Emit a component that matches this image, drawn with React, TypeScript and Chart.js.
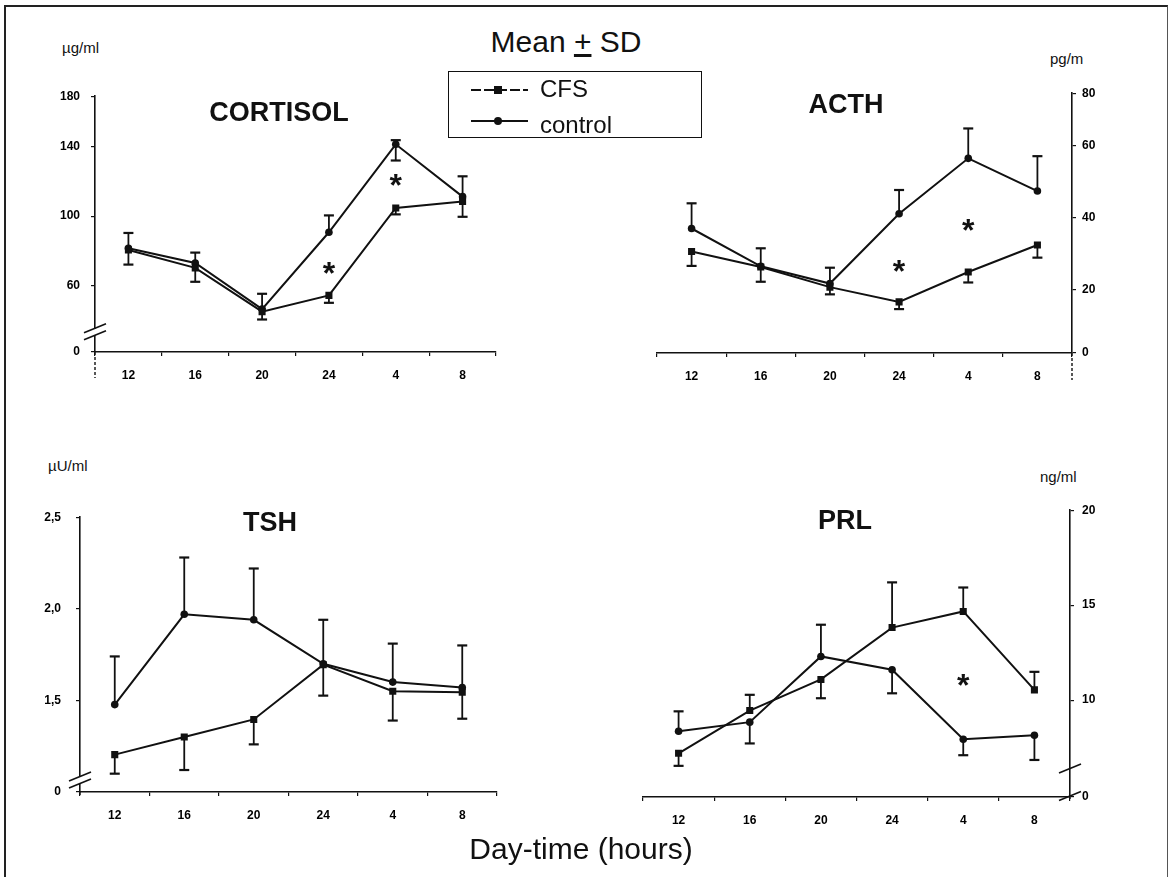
import React, { useEffect, useRef } from "react";
import { Chart, registerables } from "chart.js";

Chart.register(...registerables);

const FONT = "'Liberation Sans', Arial, Helvetica, sans-serif";

// ---- shared categories (day-time, hours) ----
const HOURS = ["12", "16", "20", "24", "4", "8"];

// ---- CORTISOL (µg/ml) ----
const CORT_CFS = [80.5, 70.2, 45.0, 54.4, 104.7, 108.4];
const CORT_CFS_HI = [null, null, null, null, null, null];
const CORT_CFS_LO = [72.1, 62.2, 40.5, 50.1, 101.0, 99.6];
const CORT_CTL = [81.5, 73.0, 46.5, 90.7, 141.3, 111.2];
const CORT_CTL_HI = [90.3, 79.0, 55.3, 100.4, 143.7, 122.9];
const CORT_CTL_LO = [null, null, null, null, 132.0, null];
const CORT_TICK_VALUES = [21.8, 60, 100, 140, 169];
const CORT_TICK_LABELS = ["0", "60", "100", "140", "180"];
const CORT_STAR_INDEX = [3, 4];
const CORT_STAR_VALUE = [71.3, 122];

// ---- ACTH (pg/ml) ----
const ACTH_CFS = [30.6, 26.3, 20.7, 16.6, 24.9, 32.4];
const ACTH_CFS_HI = [null, null, null, null, null, null];
const ACTH_CFS_LO = [26.6, 22.2, 18.7, 14.6, 22.0, 28.9];
const ACTH_CTL = [37.0, 26.5, 21.7, 41.1, 56.5, 47.4];
const ACTH_CTL_HI = [44.0, 31.5, 26.1, 47.7, 64.8, 57.1];
const ACTH_CTL_LO = [null, null, null, null, null, null];
const ACTH_TICK_VALUES = [2.4, 20, 40, 60, 74.6];
const ACTH_TICK_LABELS = ["0", "20", "40", "60", "80"];
const ACTH_STAR_INDEX = [3, 4];
const ACTH_STAR_VALUE = [27.2, 38.6];

// ---- TSH (µU/ml) ----
const TSH_CFS = [1.204, 1.3, 1.396, 1.695, 1.55, 1.545];
const TSH_CFS_HI = [null, null, null, null, null, null];
const TSH_CFS_LO = [1.1, 1.12, 1.26, 1.526, 1.39, 1.4];
const TSH_CTL = [1.477, 1.97, 1.94, 1.7, 1.6, 1.57];
const TSH_CTL_HI = [1.74, 2.28, 2.22, 1.94, 1.81, 1.8];
const TSH_CTL_LO = [null, null, null, null, null, null];
const TSH_TICK_VALUES = [1.0, 1.5, 2.0, 2.5];
const TSH_TICK_LABELS = ["0", "1,5", "2,0", "2,5"];
const TSH_STAR_INDEX: number[] = [];
const TSH_STAR_VALUE: number[] = [];

// ---- PRL (ng/ml) ----
const PRL_CFS = [7.2, 9.45, 11.09, 13.82, 14.67, 10.54];
const PRL_CFS_HI = [null, 10.28, null, 16.2, 15.93, 11.49];
const PRL_CFS_LO = [6.54, null, 10.1, null, null, null];
const PRL_CTL = [8.36, 8.84, 12.3, 11.6, 7.94, 8.15];
const PRL_CTL_HI = [9.41, null, 13.97, null, null, null];
const PRL_CTL_LO = [null, 7.72, null, 10.36, 7.1, 6.85];
const PRL_TICK_VALUES = [4.9, 10, 15, 20];
const PRL_TICK_LABELS = ["0", "10", "15", "20"];
const PRL_STAR_INDEX = [4];
const PRL_STAR_VALUE = [11.18];

type Panel = {
  key: string;
  side: "left" | "right";
  cfs: number[];
  cfsHi: (number | null)[];
  cfsLo: (number | null)[];
  ctl: number[];
  ctlHi: (number | null)[];
  ctlLo: (number | null)[];
  tickValues: number[];
  tickLabels: string[];
  starIndex: number[];
  starValue: number[];
  box: { left: number; top: number; width: number; height: number };
  pad: { top: number; right: number; bottom: number; left: number };
  yWidth: number;
  xHeight: number;
  yPad: number;
  breaks: { value: number; count: number }[];
  tail: number;
};

const PANELS: Panel[] = [
  {
    key: "cort", side: "left",
    cfs: CORT_CFS, cfsHi: CORT_CFS_HI, cfsLo: CORT_CFS_LO,
    ctl: CORT_CTL, ctlHi: CORT_CTL_HI, ctlLo: CORT_CTL_LO,
    tickValues: CORT_TICK_VALUES, tickLabels: CORT_TICK_LABELS,
    starIndex: CORT_STAR_INDEX, starValue: CORT_STAR_VALUE,
    box: { left: 20, top: 78, width: 490, height: 330 },
    pad: { top: 10, right: 14, bottom: 0, left: 0 },
    yWidth: 75, xHeight: 56, yPad: 11,
    breaks: [{ value: 33.5, count: 2 }], tail: 26,
  },
  {
    key: "acth", side: "right",
    cfs: ACTH_CFS, cfsHi: ACTH_CFS_HI, cfsLo: ACTH_CFS_LO,
    ctl: ACTH_CTL, ctlHi: ACTH_CTL_HI, ctlLo: ACTH_CTL_LO,
    tickValues: ACTH_TICK_VALUES, tickLabels: ACTH_TICK_LABELS,
    starIndex: ACTH_STAR_INDEX, starValue: ACTH_STAR_VALUE,
    box: { left: 640, top: 80, width: 470, height: 330 },
    pad: { top: 13, right: 0, bottom: 0, left: 17 },
    yWidth: 38, xHeight: 57, yPad: 6,
    breaks: [], tail: 27,
  },
  {
    key: "tsh", side: "left",
    cfs: TSH_CFS, cfsHi: TSH_CFS_HI, cfsLo: TSH_CFS_LO,
    ctl: TSH_CTL, ctlHi: TSH_CTL_HI, ctlLo: TSH_CTL_LO,
    tickValues: TSH_TICK_VALUES, tickLabels: TSH_TICK_LABELS,
    starIndex: TSH_STAR_INDEX, starValue: TSH_STAR_VALUE,
    box: { left: 10, top: 495, width: 500, height: 345 },
    pad: { top: 15, right: 13, bottom: 0, left: 0 },
    yWidth: 70, xHeight: 48, yPad: 15,
    breaks: [{ value: 1.066, count: 2 }], tail: 4,
  },
  {
    key: "prl", side: "right",
    cfs: PRL_CFS, cfsHi: PRL_CFS_HI, cfsLo: PRL_CFS_LO,
    ctl: PRL_CTL, ctlHi: PRL_CTL_HI, ctlLo: PRL_CTL_LO,
    tickValues: PRL_TICK_VALUES, tickLabels: PRL_TICK_LABELS,
    starIndex: PRL_STAR_INDEX, starValue: PRL_STAR_VALUE,
    box: { left: 625, top: 495, width: 485, height: 345 },
    pad: { top: 15, right: 0, bottom: 0, left: 18 },
    yWidth: 40, xHeight: 43, yPad: 8,
    breaks: [{ value: 6.4, count: 1 }, { value: 4.95, count: 1 }], tail: 2,
  },
];

const INK = "#111";

function makeDecor(p: Panel) {
  return {
    id: "decor_" + p.key,
    beforeDatasetsDraw(chart: any) {
      const { ctx, scales } = chart;
      const x = scales.x;
      const y = scales.y;
      ctx.save();
      ctx.strokeStyle = INK;
      const sets: [number[], (number | null)[], (number | null)[]][] = [
        [p.cfs, p.cfsHi, p.cfsLo],
        [p.ctl, p.ctlHi, p.ctlLo],
      ];
      sets.forEach(([vals, hi, lo]) => {
        vals.forEach((v, i) => {
          [hi[i], lo[i]].forEach((e) => {
            if (e == null) return;
            const px = x.getPixelForValue(i);
            const y0 = y.getPixelForValue(v);
            const y1 = y.getPixelForValue(e);
            ctx.lineWidth = 1.8;
            ctx.beginPath();
            ctx.moveTo(px, y0);
            ctx.lineTo(px, y1);
            ctx.stroke();
            ctx.lineWidth = 2.2;
            ctx.beginPath();
            ctx.moveTo(px - 5, y1);
            ctx.lineTo(px + 5, y1);
            ctx.stroke();
          });
        });
      });
      ctx.restore();
    },
    afterDraw(chart: any) {
      const { ctx, scales, chartArea } = chart;
      const x = scales.x;
      const y = scales.y;
      const axisX = p.side === "left" ? chartArea.left : chartArea.right;
      ctx.save();
      // axis tail below the x axis
      if (p.tail > 0) {
        ctx.strokeStyle = INK;
        ctx.lineWidth = 1.4;
        ctx.setLineDash([3, 2]);
        ctx.beginPath();
        ctx.moveTo(axisX, chartArea.bottom);
        ctx.lineTo(axisX, chartArea.bottom + p.tail);
        ctx.stroke();
        ctx.setLineDash([]);
      }
      // axis break marks
      p.breaks.forEach((b) => {
        const yc = y.getPixelForValue(b.value);
        const offs = b.count === 2 ? [-3.5, 3.5] : [0];
        if (b.count === 2) ctx.clearRect(axisX - 2, yc - 3, 4, 6);
        ctx.strokeStyle = INK;
        ctx.lineWidth = 1.6;
        offs.forEach((o) => {
          ctx.beginPath();
          ctx.moveTo(axisX - 11, yc + o + 4.5);
          ctx.lineTo(axisX + 11, yc + o - 4.5);
          ctx.stroke();
        });
      });
      // significance stars
      ctx.fillStyle = INK;
      ctx.font = `bold 32px ${FONT}`;
      ctx.textAlign = "center";
      ctx.textBaseline = "alphabetic";
      p.starIndex.forEach((idx, k) => {
        const px = x.getPixelForValue(idx);
        const py = y.getPixelForValue(p.starValue[k]);
        ctx.fillText("*", px, py + 18.5);
      });
      ctx.restore();
    },
  };
}

function PanelChart({ p }: { p: Panel }) {
  const ref = useRef<HTMLCanvasElement | null>(null);
  useEffect(() => {
    if (!ref.current) return;
    const tickFont = { family: FONT, size: 12, weight: "bold" as const };
    const chart = new Chart(ref.current, {
      type: "line",
      data: {
        labels: HOURS,
        datasets: [
          {
            label: "CFS",
            data: p.cfs,
            borderColor: INK,
            backgroundColor: INK,
            borderWidth: 2,
            pointStyle: "rect",
            pointRadius: 5,
            pointBorderWidth: 0,
            tension: 0,
          },
          {
            label: "control",
            data: p.ctl,
            borderColor: INK,
            backgroundColor: INK,
            borderWidth: 2,
            pointStyle: "circle",
            pointRadius: 3.8,
            pointBorderWidth: 0,
            tension: 0,
          },
        ],
      },
      options: {
        animation: false,
        responsive: false,
        maintainAspectRatio: false,
        layout: { padding: p.pad },
        plugins: {
          legend: { display: false },
          tooltip: { enabled: false },
          title: { display: false },
        },
        scales: {
          x: {
            type: "category",
            offset: true,
            grid: {
              offset: true,
              drawOnChartArea: false,
              drawTicks: true,
              tickLength: 4,
              color: INK,
              lineWidth: 1.2,
            },
            border: { display: true, color: INK, width: 1.5, dash: [14, 3] },
            ticks: {
              font: tickFont,
              color: "#000",
              padding: 12,
              maxRotation: 0,
              autoSkip: false,
            },
            afterFit: (s: any) => {
              s.height = p.xHeight;
            },
          },
          y: {
            type: "linear",
            position: p.side,
            min: p.tickValues[0],
            max: p.tickValues[p.tickValues.length - 1],
            afterBuildTicks: (s: any) => {
              s.ticks = p.tickValues.map((v) => ({ value: v }));
            },
            grid: {
              drawOnChartArea: false,
              drawTicks: true,
              tickLength: 4,
              color: INK,
              lineWidth: 1.2,
            },
            border: { display: true, color: INK, width: 1.6 },
            ticks: {
              font: tickFont,
              color: "#000",
              padding: p.yPad,
              callback: (_v: any, i: number) => p.tickLabels[i],
            },
            afterFit: (s: any) => {
              s.width = p.yWidth;
            },
          },
        },
      } as any,
      plugins: [makeDecor(p)],
    });
    return () => chart.destroy();
  }, [p]);
  return (
    <canvas
      ref={ref}
      width={p.box.width}
      height={p.box.height}
      style={{
        position: "absolute",
        left: p.box.left,
        top: p.box.top,
        width: p.box.width,
        height: p.box.height,
      }}
    />
  );
}

function Txt(props: {
  x: number;
  baseline: number;
  size: number;
  bold?: boolean;
  align?: "left" | "center";
  children: React.ReactNode;
}) {
  const { x, baseline, size, bold, align = "left", children } = props;
  const top = baseline - 0.8465 * size;
  const style: React.CSSProperties = {
    position: "absolute",
    top,
    fontFamily: FONT,
    fontSize: size,
    fontWeight: bold ? "bold" : "normal",
    lineHeight: 1,
    whiteSpace: "nowrap",
    color: INK,
  };
  if (align === "center") {
    style.left = x - 300;
    style.width = 600;
    style.textAlign = "center";
  } else {
    style.left = x;
  }
  return <div style={style}>{children}</div>;
}

export default function App() {
  return (
    <div
      style={{
        position: "absolute",
        left: 0,
        top: 0,
        width: 1171,
        height: 877,
        background: "#fff",
        overflow: "hidden",
      }}
    >
      {/* outer frame */}
      <div
        style={{
          position: "absolute",
          left: 4,
          top: 5,
          width: 1164,
          height: 900,
          borderLeft: "2px solid #222",
          borderTop: "2px solid #222",
          borderRight: "1.5px solid #555",
          boxSizing: "border-box",
        }}
      />
      {PANELS.map((p) => (
        <PanelChart key={p.key} p={p} />
      ))}

      <Txt x={566} baseline={52} size={30} align="center">
        Mean <span style={{ textDecoration: "underline" }}>+</span> SD
      </Txt>

      {/* legend */}
      <div
        style={{
          position: "absolute",
          left: 448,
          top: 71,
          width: 254,
          height: 67,
          border: "1.5px solid #111",
          boxSizing: "border-box",
        }}
      />
      <svg
        style={{ position: "absolute", left: 466, top: 80, overflow: "visible" }}
        width={70}
        height={50}
      >
        <line x1={5} y1={10} x2={62} y2={10} stroke={INK} strokeWidth={1.8} strokeDasharray="10 3" />
        <rect x={28} y={6} width={8} height={8} fill={INK} />
        <line x1={5} y1={41} x2={62} y2={41} stroke={INK} strokeWidth={1.8} />
        <circle cx={32} cy={41} r={4} fill={INK} />
      </svg>
      <Txt x={540} baseline={97} size={24}>CFS</Txt>
      <Txt x={540} baseline={133} size={24}>control</Txt>

      {/* panel titles */}
      <Txt x={279} baseline={122} size={27} bold align="center">CORTISOL</Txt>
      <Txt x={846} baseline={114} size={27} bold align="center">ACTH</Txt>
      <Txt x={270} baseline={532} size={27} bold align="center">TSH</Txt>
      <Txt x={845} baseline={530} size={27} bold align="center">PRL</Txt>

      {/* units */}
      <Txt x={62} baseline={53} size={15}>µg/ml</Txt>
      <Txt x={1050} baseline={64} size={15}>pg/m</Txt>
      <Txt x={48} baseline={471} size={15}>µU/ml</Txt>
      <Txt x={1040} baseline={482} size={15}>ng/ml</Txt>

      <Txt x={581} baseline={859} size={30} align="center">Day-time (hours)</Txt>
    </div>
  );
}
